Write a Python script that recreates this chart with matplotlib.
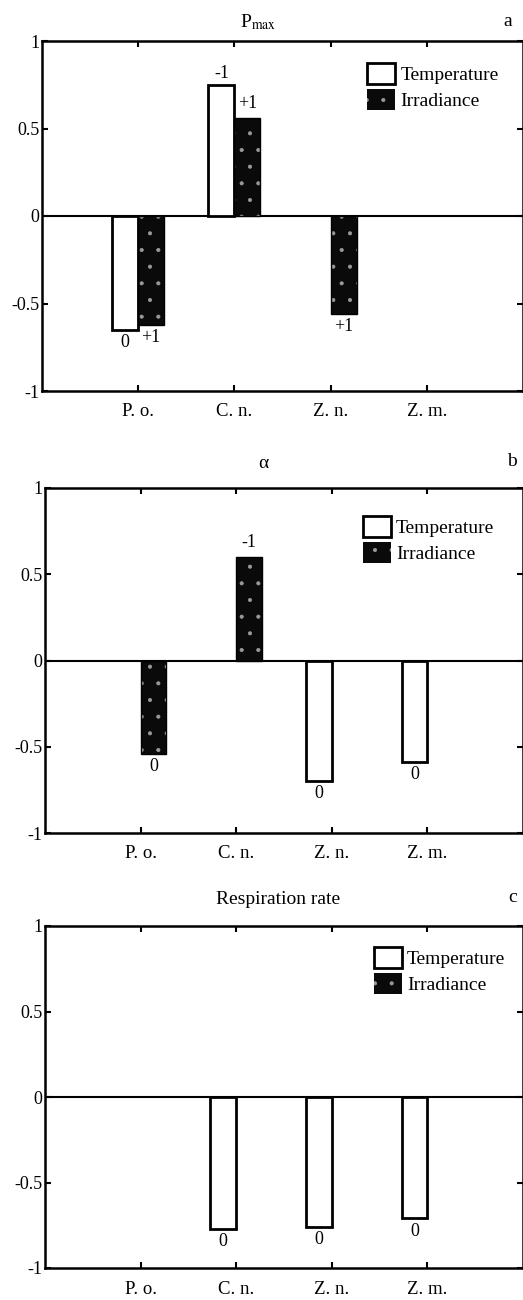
import numpy as np
import matplotlib
matplotlib.use("Agg")
import matplotlib.pyplot as plt
from matplotlib.patches import Patch

plt.rcParams['font.family'] = ['Liberation Serif', 'DejaVu Serif']
plt.rcParams['mathtext.fontset'] = 'stix'
plt.rcParams['axes.unicode_minus'] = False
plt.rcParams['hatch.linewidth'] = 0.5

categories = ["P. o.", "C. n.", "Z. n.", "Z. m."]
ytick_vals = [-1, -0.5, 0, 0.5, 1]
ytick_labels = ["-1", "-0.5", "0", "0.5", "1"]

# Panel a: Pmax
pmax_temp = [-0.65, 0.75, None, None]
pmax_irr = [-0.62, 0.56, -0.56, None]
pmax_temp_lbl = ["0", "-1", "", ""]
pmax_irr_lbl = ["+1", "+1", "+1", ""]

# Panel b: alpha
alpha_temp = [None, None, -0.70, -0.59]
alpha_irr = [-0.54, 0.60, None, None]
alpha_temp_lbl = ["", "", "0", "0"]
alpha_irr_lbl = ["0", "-1", "", ""]

# Panel c: respiration rate
resp_temp = [None, -0.77, -0.76, -0.71]
resp_irr = [None, None, None, None]
resp_temp_lbl = ["", "0", "0", "0"]
resp_irr_lbl = ["", "", "", ""]

W, H = 523, 1300
fig = plt.figure(figsize=(W / 100, H / 100), dpi=100)

def px_axes(left, top, right, bottom):
    return fig.add_axes([left / W, 1 - bottom / H, (right - left) / W, (bottom - top) / H])

panels = [
    dict(box=(42, 41, 523, 391), temp=pmax_temp, irr=pmax_irr, tl=pmax_temp_lbl, il=pmax_irr_lbl,
         title=r"P$_{\rm max}$", tx=0.45, ty=19, letter="a", lx=0.969, ly=19, leg=(0.676, 0.937)),
    dict(box=(45, 488, 523, 833), temp=alpha_temp, irr=alpha_irr, tl=alpha_temp_lbl, il=alpha_irr_lbl,
         title="α", tx=0.456, ty=24, letter="b", lx=0.977, ly=26, leg=(0.665, 0.919)),
    dict(box=(45, 926, 523, 1268), temp=resp_temp, irr=resp_irr, tl=resp_temp_lbl, il=resp_irr_lbl,
         title="Respiration rate", tx=0.487, ty=26, letter="c", lx=0.979, ly=29, leg=(0.688, 0.939)),
]

bw = 0.27
x = np.arange(1, len(categories) + 1)
IRR_FACE = '#0a0a0a'
IRR_DOTS = '#9a9a9a'

for p in panels:
    ax = px_axes(*p["box"])
    h_ax = p["box"][3] - p["box"][1]
    for xi, v, lbl in zip(x, p["temp"], p["tl"]):
        if v is None:
            continue
        ax.bar(xi, v, width=-bw, align='edge', facecolor='white', edgecolor='black', linewidth=2.0, zorder=3)
        if lbl:
            ax.annotate(lbl, (xi - bw / 2, v), xytext=(0, 2 if v > 0 else -3), textcoords='offset points',
                        ha='center', va='bottom' if v > 0 else 'top', fontsize=13)
    for xi, v, lbl in zip(x, p["irr"], p["il"]):
        if v is None:
            continue
        ax.bar(xi, v, width=bw, align='edge', facecolor=IRR_FACE, edgecolor=IRR_DOTS, hatch='.',
               linewidth=0, zorder=3)
        ax.bar(xi, v, width=bw, align='edge', facecolor='none', edgecolor='black', linewidth=1.0, zorder=4)
        if lbl:
            ax.annotate(lbl, (xi + bw / 2, v), xytext=(0, 4 if v > 0 else -3), textcoords='offset points',
                        ha='center', va='bottom' if v > 0 else 'top', fontsize=13)
    ax.axhline(0, color='black', linewidth=1.5, zorder=2)
    ax.set_xlim(0, 5)
    ax.set_ylim(-1, 1)
    ax.set_xticks(x)
    ax.set_xticklabels(categories, fontsize=13.5)
    ax.set_yticks(ytick_vals)
    ax.set_yticklabels(ytick_labels, fontsize=13)
    ax.tick_params(direction='in', length=4, width=1.5, top=True, right=True)
    ax.tick_params(axis='x', pad=9)
    ax.tick_params(axis='y', pad=2)
    for s in ax.spines.values():
        s.set_linewidth(1.8)
    ax.text(p["tx"], 1 + p["ty"] / h_ax, p["title"], transform=ax.transAxes, ha='center', va='center',
            fontsize=14)
    ax.text(p["lx"], 1 + p["ly"] / h_ax, p["letter"], transform=ax.transAxes, ha='center', va='center',
            fontsize=14)
    handles = [
        Patch(facecolor='white', edgecolor='black', linewidth=2.0, label='Temperature'),
        Patch(facecolor=IRR_FACE, edgecolor=IRR_DOTS, hatch='.', linewidth=0, label='Irradiance'),
    ]
    ax.legend(handles=handles, loc='upper left', bbox_to_anchor=p["leg"], frameon=False, fontsize=14,
              borderpad=0, borderaxespad=0, handlelength=1.45, handleheight=1.3, labelspacing=0.25,
              handletextpad=0.25)

fig.savefig("out.png", dpi=100)
